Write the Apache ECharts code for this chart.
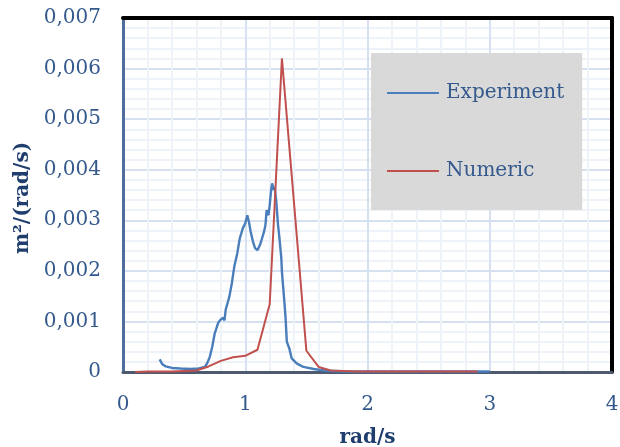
<!DOCTYPE html>
<html>
<head>
<meta charset="utf-8">
<script src="https://cdn.jsdelivr.net/npm/echarts@6/dist/echarts.min.js"></script>
<style>html,body{margin:0;padding:0;background:#fff;}#c{width:620px;height:447px;}</style>
</head>
<body>
<div id="c"></div>
<script>
// ---- data ----
const expX = [0.30,0.32,0.35,0.40,0.47,0.55,0.62,0.67,0.69,0.71,0.73,0.75,0.78,0.80,0.82,0.83,0.84,0.87,0.89,0.91,0.935,0.955,0.98,1.0,1.017,1.03,1.045,1.063,1.08,1.1,1.12,1.137,1.153,1.165,1.175,1.19,1.2,1.213,1.22,1.233,1.24,1.254,1.268,1.28,1.295,1.30,1.32,1.33,1.34,1.36,1.38,1.42,1.475,1.56,1.65,1.8,2.2,3.0];
const expY = [0.00025,0.00016,0.00011,0.00008,0.00007,0.00006,0.00007,0.0001,0.00018,0.0003,0.0005,0.00076,0.00098,0.00104,0.00107,0.00102,0.00123,0.00149,0.00175,0.00208,0.00235,0.00264,0.00284,0.00294,0.0031,0.00297,0.00277,0.00258,0.00245,0.00241,0.00251,0.00264,0.00277,0.0029,0.0032,0.0031,0.0033,0.00363,0.00373,0.0036,0.00366,0.00337,0.00291,0.00264,0.00225,0.00198,0.00139,0.00106,0.0006,0.00047,0.00027,0.00017,0.0001,0.00006,0.00003,0.00001,0.00001,0.00001];
const numX = [0.1,0.2,0.3,0.4,0.5,0.6,0.7,0.8,0.9,1.0,1.1,1.2,1.3,1.5,1.6,1.7,1.8,1.9,2.0,2.2,2.5,2.9];
const numY = [0,0.00001,0.00001,0.00001,0.00002,0.00003,0.00011,0.00022,0.00029,0.00032,0.00044,0.00134,0.0062,0.00042,0.0001,0.00003,0.00002,0.00001,0.00001,0.00001,0.00001,0.00001];
const seriesNames = ['Experiment','Numeric'];
const xTitle = 'rad/s';
const yTitle = 'm²/(rad/s)';

const font = 'DejaVu Serif';
const labelColor = '#34598C';
const titleColor = '#1F3E6E';
const blue = '#4A7EBB';
const red = '#C0504D';

const chart = echarts.init(document.getElementById('c'), null, {renderer:'canvas'});
chart.setOption({
  animation: false,
  backgroundColor: '#fff',
  grid: {left:123, right:8, top:18, bottom:75, show:false, containLabel:false, outerBoundsMode:'none'},
  legend: {
    orient:'vertical', left:371, top:53,
    backgroundColor:'#D9D9D9',
    padding:[30,18,29,16],
    icon:'rect',
    itemWidth:52, itemHeight:2, itemGap:58,
    textStyle:{fontFamily:font, fontSize:20, color:labelColor, padding:[0,0,0,2], lineHeight:20},
    data: seriesNames
  },
  xAxis: [{
    type:'value', min:0, max:4, interval:1,
    name:xTitle, nameLocation:'middle', nameGap:56,
    nameTextStyle:{fontFamily:font, fontSize:20, fontWeight:'bold', color:titleColor},
    axisLine:{show:true, onZero:false, lineStyle:{color:'#4E5A70', width:3}},
    axisTick:{show:false},
    axisLabel:{fontFamily:font, fontSize:20, color:labelColor, margin:23},
    splitLine:{show:true, lineStyle:{color:'#D5E1F1', width:2}},
    minorTick:{show:false, splitNumber:5},
    minorSplitLine:{show:true, lineStyle:{color:'#EEF3FA', width:2}}
  },{
    type:'value', min:0, max:4, interval:1, position:'top',
    axisLine:{show:true, onZero:false, lineStyle:{color:'#000', width:4}},
    axisTick:{show:false}, axisLabel:{show:false}, splitLine:{show:false}
  }],
  yAxis: [{
    type:'value', min:0, max:0.007, interval:0.001,
    name:yTitle, nameLocation:'middle', nameGap:86,
    nameTextStyle:{fontFamily:font, fontSize:20, fontWeight:'bold', color:titleColor, padding:[0,6,0,0]},
    axisLine:{show:true, onZero:false, lineStyle:{color:'#4F6E9E', width:3}},
    axisTick:{show:false},
    axisLabel:{fontFamily:font, fontSize:20, color:labelColor, margin:22,
      formatter: v => v === 0 ? '0' : v.toFixed(3).replace('.', ',')},
    splitLine:{show:true, lineStyle:{color:'#D5E1F1', width:2}},
    minorTick:{show:false, splitNumber:5},
    minorSplitLine:{show:true, lineStyle:{color:'#EEF3FA', width:2}}
  },{
    type:'value', min:0, max:0.007, interval:0.001, position:'right',
    axisLine:{show:true, onZero:false, lineStyle:{color:'#000', width:4}},
    axisTick:{show:false}, axisLabel:{show:false}, splitLine:{show:false}
  }],
  series: [
    {name:seriesNames[0], type:'line', symbol:'none', data: expX.map((x,i)=>[x,expY[i]]),
     lineStyle:{color:blue, width:2.4}, itemStyle:{color:blue}, z:3},
    {name:seriesNames[1], type:'line', symbol:'none', data: numX.map((x,i)=>[x,numY[i]]),
     lineStyle:{color:red, width:2}, itemStyle:{color:red}, z:4}
  ]
});
</script>
</body>
</html>
